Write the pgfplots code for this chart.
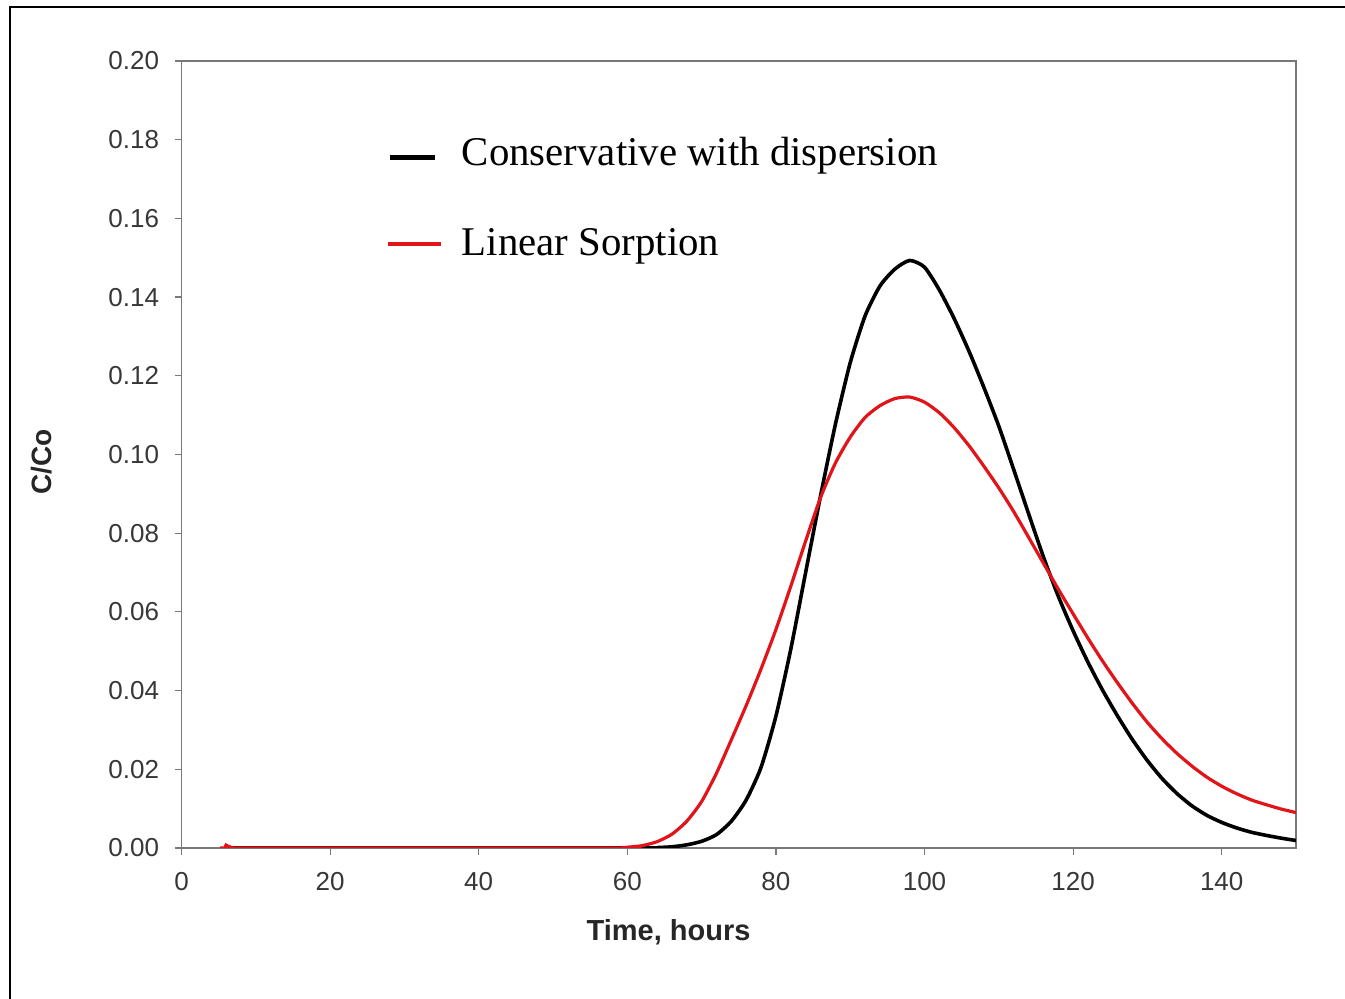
\documentclass[border=0pt]{standalone}
\usepackage{fontspec}
\setmainfont{Liberation Sans}
\newfontfamily\legendfont{Liberation Serif}
\usepackage{pgfplots}
\pgfplotsset{compat=1.18}
\definecolor{ticktext}{RGB}{55,55,55}
\definecolor{axisgray}{RGB}{120,120,120}
\definecolor{curvered}{RGB}{225,20,25}

\pgfplotstableread{
x y
6 0
62 0
64 0.0001
66 0.0003
68 0.0008
70 0.0017
72 0.0034
74 0.0068
76 0.0122
78 0.0205
80 0.0335
82 0.0505
84 0.0700
86 0.0894
88 0.1076
90 0.1233
92 0.1352
94 0.1428
96 0.1471
98 0.1493
100 0.1476
102 0.1418
104 0.1345
106 0.1262
108 0.1170
110 0.1072
112 0.0962
114 0.0850
116 0.0740
118 0.0640
120 0.0552
122 0.0472
124 0.0400
126 0.0335
128 0.0275
130 0.0222
132 0.0176
134 0.0138
136 0.0107
138 0.0083
140 0.0065
142 0.0051
144 0.0040
146 0.0032
148 0.0025
150 0.0019
}\conservative

\pgfplotstableread{
x y
5.8 0.0009
6.8 0.0001
8 0
58 0
60 0.0002
62 0.0006
64 0.0016
66 0.0035
68 0.0068
70 0.0118
72 0.0190
74 0.0275
76 0.0362
78 0.0455
80 0.0555
82 0.0665
84 0.0780
86 0.0890
88 0.0978
90 0.1044
92 0.1094
94 0.1124
96 0.1142
98 0.1146
100 0.1133
102 0.1106
104 0.1068
106 0.1022
108 0.0970
110 0.0915
112 0.0855
114 0.0790
116 0.0724
118 0.0658
120 0.0595
122 0.0533
124 0.0474
126 0.0419
128 0.0367
130 0.0319
132 0.0277
134 0.0240
136 0.0208
138 0.0180
140 0.0157
142 0.0138
144 0.0122
146 0.0110
148 0.0099
150 0.0090
}\sorption

\begin{document}
\begin{tikzpicture}
\path[use as bounding box] (0,0) rectangle (672.5pt,499.5pt);
\draw[line width=1.3pt, black] (5pt,0) -- (5pt,496pt) -- (672.5pt,496pt);
\begin{axis}[
  at={(90.75pt,75.5pt)}, anchor=south west,
  scale only axis,
  width=557.25pt, height=393.5pt,
  xmin=0, xmax=150, ymin=0, ymax=0.2,
  xtick={0,20,...,140},
  ytick={0,0.02,...,0.2},
  tick pos=left, tick align=outside,
  major tick length=3.5pt,
  every tick/.style={axisgray, line width=0.6pt},
  axis line style={axisgray, line width=0.9pt},
  /pgf/number format/assume math mode=true,
  yticklabel style={/pgf/number format/.cd, fixed, fixed zerofill, precision=2, /tikz/.cd,
     font=\fontsize{13}{15}\selectfont, text=ticktext, inner sep=0pt, xshift=-7.5pt},
  xticklabel style={font=\fontsize{13}{15}\selectfont, text=ticktext, inner sep=0pt, yshift=-8.5pt},
  scaled y ticks=false,
  xlabel={Time, hours},
  ylabel={C/Co},
  xlabel style={font=\bfseries\fontsize{14.5}{17}\selectfont, text=black!85,
     at={(axis description cs:0.437,-0.118)}, anchor=base, inner sep=0pt},
  ylabel style={font=\bfseries\fontsize{14}{17}\selectfont, text=black!85,
     at={(axis description cs:-0.1257,0.4905)}, anchor=center, rotate=0, inner sep=0pt},
  legend style={at={(axis description cs:0.1831,0.9086)}, anchor=north west,
     draw=none, fill=none, inner sep=0pt, outer sep=0pt,
     row sep=26pt, column sep=7.5pt,
     font=\legendfont\fontsize{20.4}{24}\selectfont,
     cells={anchor=base west, inner sep=0pt}},
  legend cell align=left,
]
\addplot[black, line width=1.8pt, smooth, tension=0.4,
  legend image code/.code={\draw[black, line width=2.2pt] (0pt,-2.5pt) -- (22.5pt,-2.5pt);}]
  table[x=x, y=y] {\conservative};
\addlegendentry{Conservative with dispersion}
\addplot[curvered, line width=1.6pt, smooth, tension=0.4,
  legend image code/.code={\draw[curvered, line width=2.2pt] (-1pt,-0.5pt) -- (25.5pt,-0.5pt);}]
  table[x=x, y=y] {\sorption};
\addlegendentry{Linear Sorption}
\end{axis}
\end{tikzpicture}
\end{document}
